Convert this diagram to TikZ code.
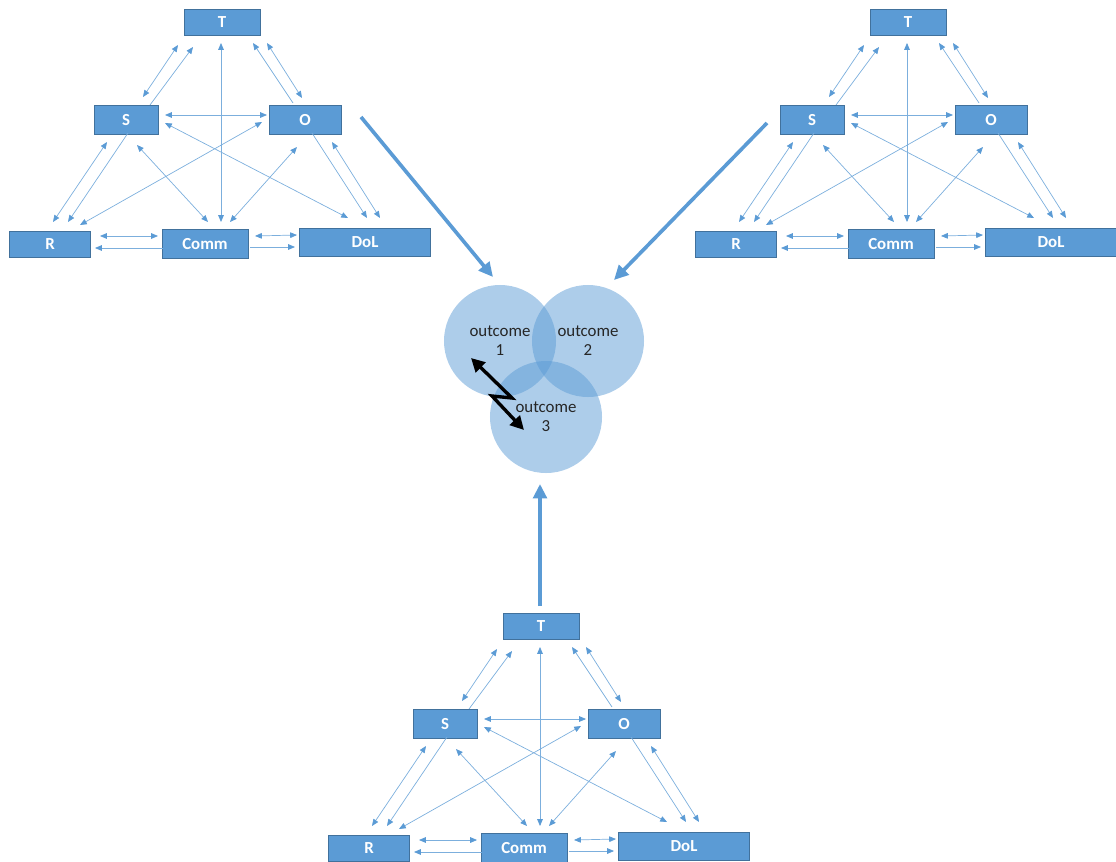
\documentclass[tikz,border=0pt]{standalone}
\usepackage{fontspec}
\setmainfont{Carlito}
\usetikzlibrary{arrows.meta}
\definecolor{boxblue}{RGB}{91,155,213}
\definecolor{boxedge}{RGB}{65,113,156}
\definecolor{linkblue}{RGB}{91,155,213}
\tikzset{
  box/.style={draw=boxedge, fill=boxblue, text=white, font=\fontsize{12}{13}\selectfont\bfseries, inner sep=0pt, line width=0.4pt},
  link/.style={draw=linkblue!80, line width=0.5pt, >={Triangle[length=1.7mm,width=1.4mm,color=linkblue]}},
  feed/.style={draw=linkblue, line width=2.6pt, -{Triangle[length=3.6mm,width=3.4mm]}},
  outcome/.style={circle, minimum size=2.8cm, fill=linkblue, fill opacity=0.5, text opacity=1, align=center, font=\fontsize{12}{13.5}\selectfont, text=black!85},
  swing/.style={line width=2.4pt, line join=miter, {Triangle[length=3.4mm,width=3.4mm]}-{Triangle[length=3.4mm,width=3.4mm]}}
}
\begin{document}
\begin{tikzpicture}[x=0.025cm, y=-0.025cm]
\useasboundingbox (0,0) rectangle (1116,861);

% three teams, same layout
\foreach \p/\dx/\dy in {a/0/0, b/686/0, c/319/604}{
\begin{scope}[shift={(\dx,\dy)}]
\node[box, minimum width=1.9cm, minimum height=0.65cm] (\p-T) at (222,22) {T};
\node[box, minimum width=1.6cm, minimum height=0.725cm] (\p-S) at (126,120) {S};
\node[box, minimum width=1.8cm, minimum height=0.725cm] (\p-O) at (305,120) {O};
\node[box, minimum width=2.025cm, minimum height=0.65cm] (\p-R) at (50,244) {R};
\node[box, minimum width=2.15cm, minimum height=0.725cm] (\p-C) at (205,244) {Comm};
\node[box, minimum width=3.275cm, minimum height=0.7cm] (\p-D) at (365,242) {DoL};
% two-way links
\foreach \na/\ax/\ay/\nb/\bx/\by in {S/17/-23/T/-44/23, T/45/21/O/-3/-22, T/-1/21/C/16/-22,
  S/39/-5/O/-38/-5, S/39/3/D/-17/-24, S/11/25/C/3/-22, S/-19/22/R/3/-22, O/-43/2/R/30/-19,
  O/-8/27/C/25/-22, O/27/22/D/15/-24, R/50/-8/C/-47/-8, C/50/-8/D/-68/-7}
  \draw[link,<->] ([shift={(\ax,\ay)}]\p-\na.center) -- ([shift={(\bx,\by)}]\p-\nb.center);
% one-way links
\foreach \na/\ax/\ay/\nb/\bx/\by in {S/24/-15/T/-29/25, O/-12/-17/T/31/21, S/2/13/R/18/-22,
  O/7/13/D/2/-24, C/-42/4/R/45/4, C/45/3/D/-70/5}
  \draw[link,->] ([shift={(\ax,\ay)}]\p-\na.center) -- ([shift={(\bx,\by)}]\p-\nb.center);
\end{scope}
}

% outcomes
\node[outcome] (o1) at (500,341) {outcome\\1};
\node[outcome] (o2) at (588,341) {outcome\\2};
\node[outcome] (o3) at (546,417) {outcome\\3};

\draw[feed] ([shift={(56,-3)}]a-O.center) -- ([shift={(-7,-64)}]o1.center);
\draw[feed] ([shift={(-45,3)}]b-S.center) -- ([shift={(26,-61)}]o2.center);
\draw[feed] ([shift={(-1,-20)}]c-T.center) -- ([shift={(-6,67)}]o3.center);

\draw[swing] ([shift={(-29,17)}]o1.center) -- ++(41,40) -- ++(-20,-2) -- ([shift={(-22,13)}]o3.center);
\end{tikzpicture}
\end{document}
